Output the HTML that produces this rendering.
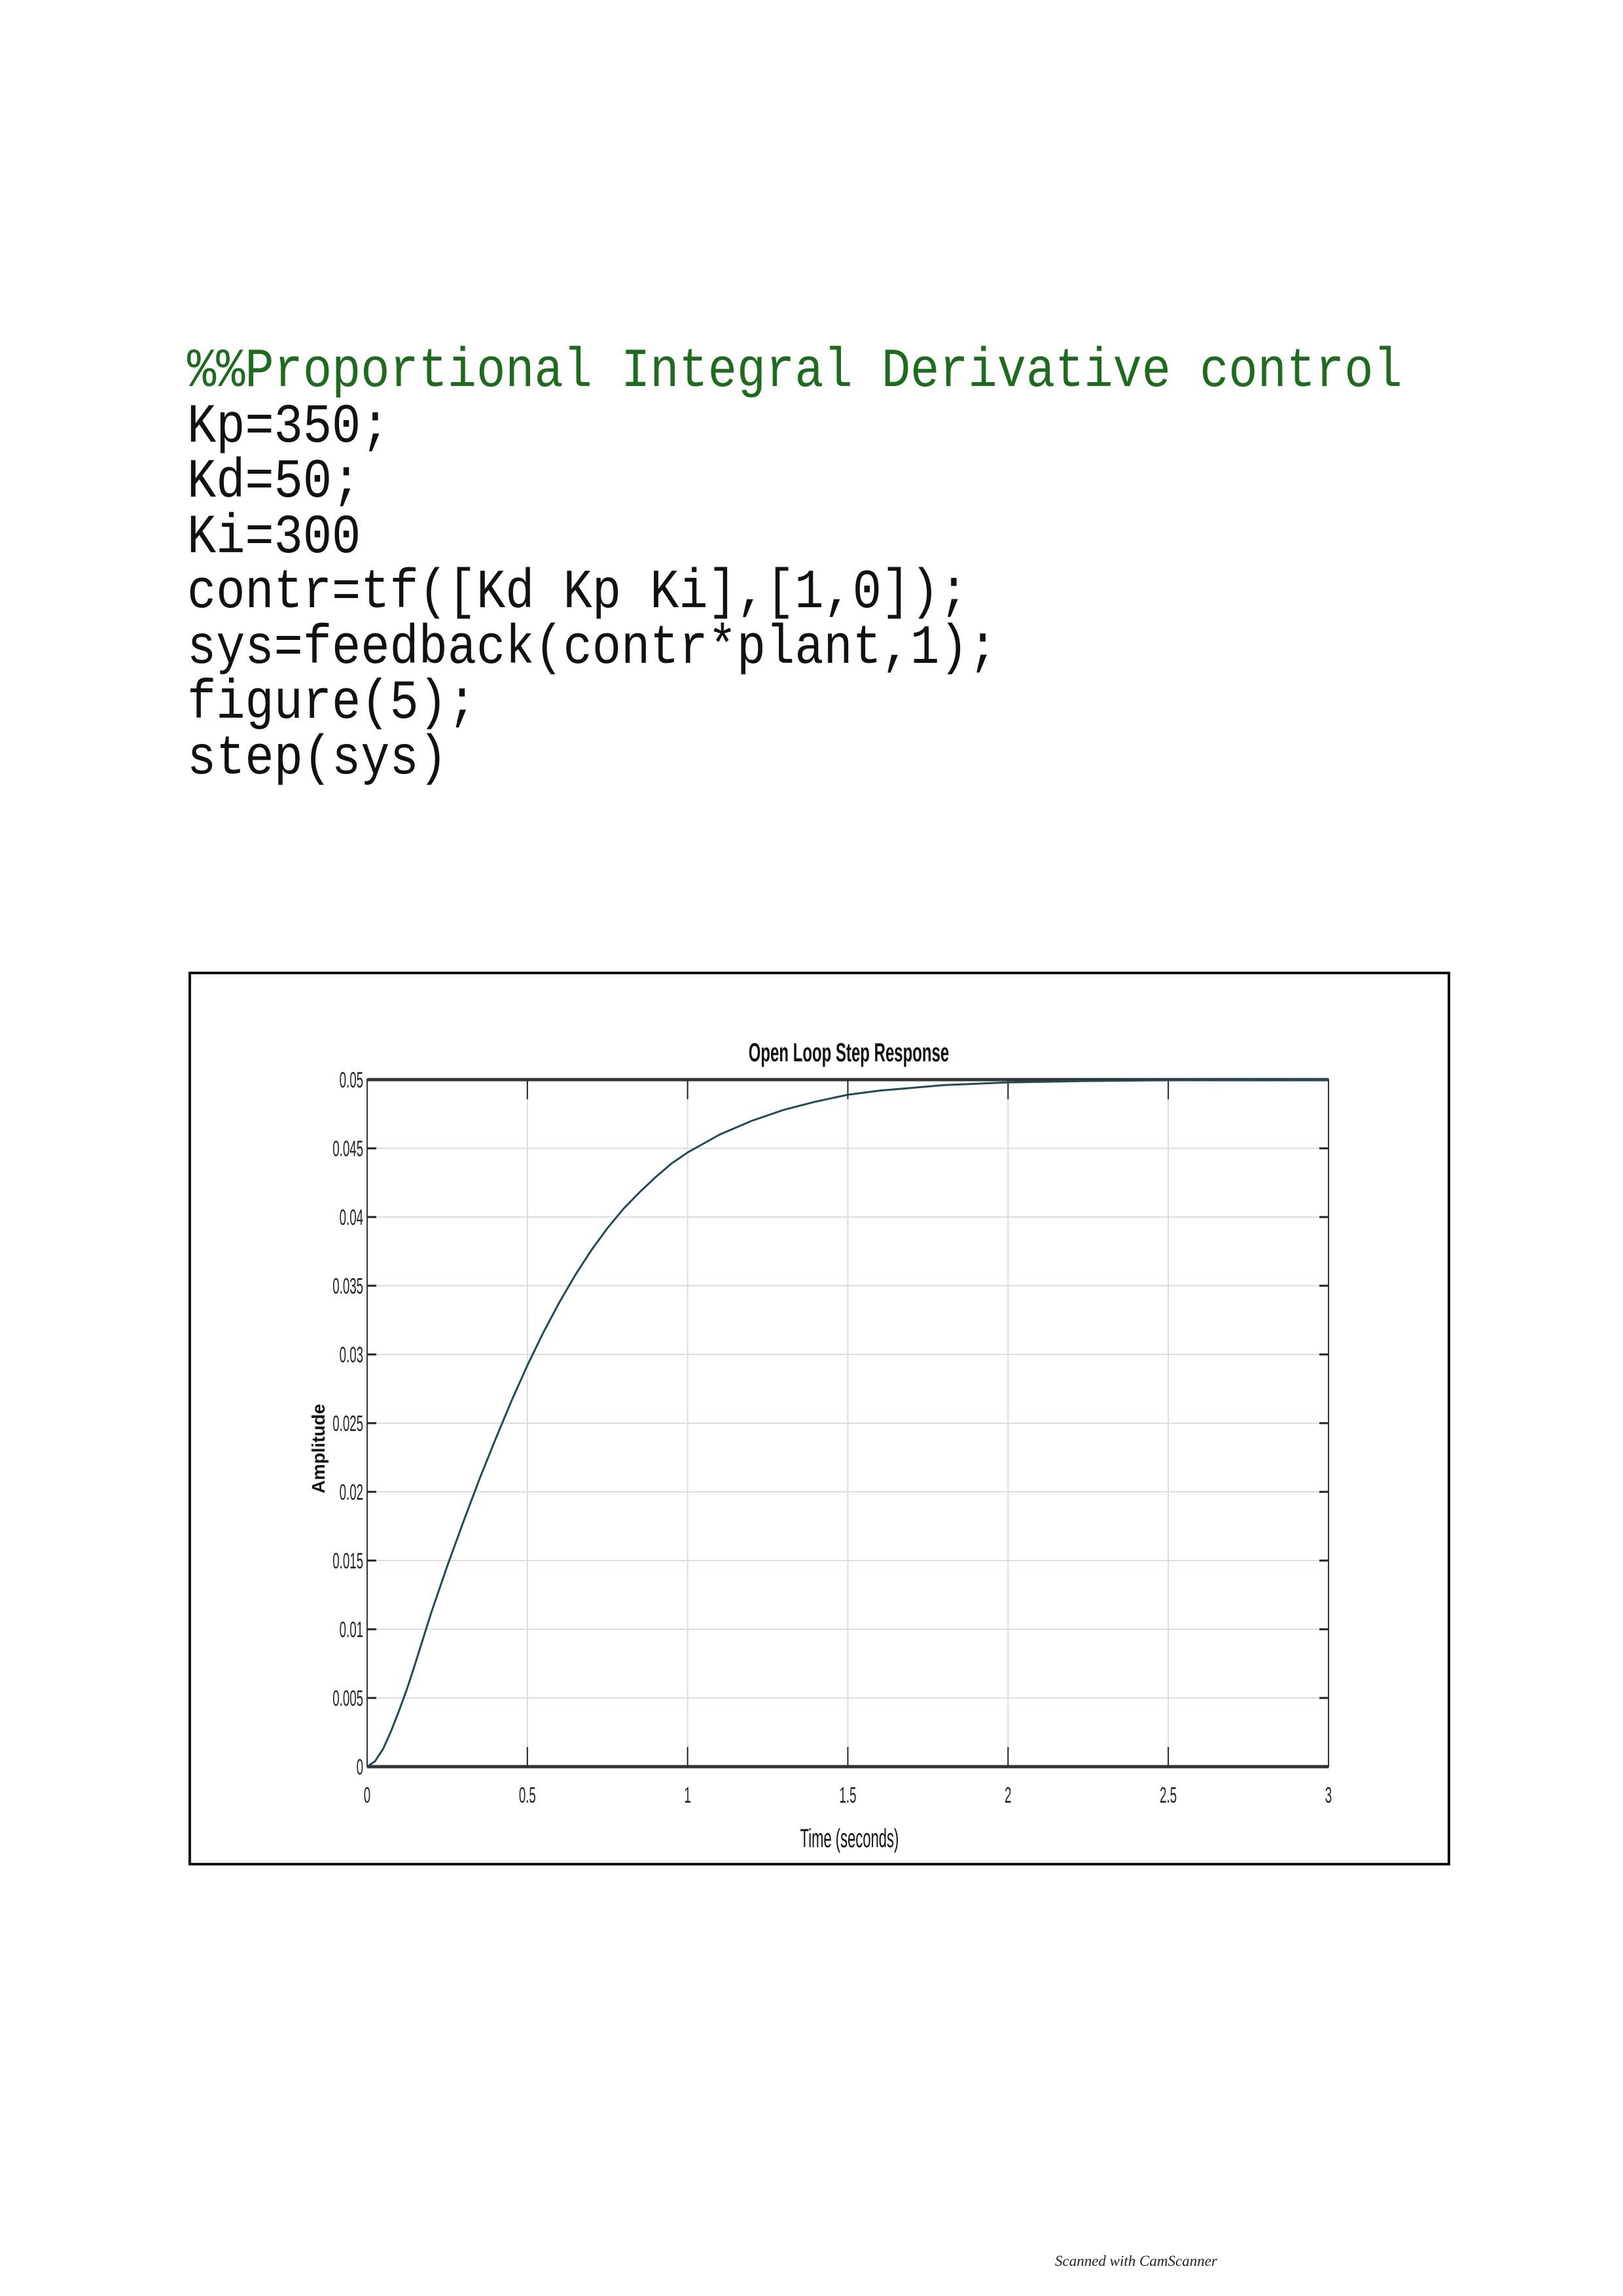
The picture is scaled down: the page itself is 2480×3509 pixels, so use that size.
<!DOCTYPE html>
<html><head><meta charset="utf-8"><style>
html,body{margin:0;padding:0;background:#fff;}
svg{display:block;}
</style></head><body>
<svg width="2480" height="3509" viewBox="0 0 2480 3509" xmlns="http://www.w3.org/2000/svg">
<g font-family="'Liberation Mono', monospace" font-size="84" transform="translate(286,0) scale(0.877,1)">
<text x="0" y="590" fill="#1d6b1d">%%Proportional Integral Derivative control</text>
<text x="0" y="675" fill="#111">Kp=350;</text>
<text x="0" y="759" fill="#111">Kd=50;</text>
<text x="0" y="844" fill="#111">Ki=300</text>
<text x="0" y="928" fill="#111">contr=tf([Kd Kp Ki],[1,0]);</text>
<text x="0" y="1013" fill="#111">sys=feedback(contr*plant,1);</text>
<text x="0" y="1097" fill="#111">figure(5);</text>
<text x="0" y="1182" fill="#111">step(sys)</text>
</g>
<rect x="290" y="1487" width="1924" height="1362" fill="#fff" stroke="#111" stroke-width="4"/>
<g id="chart"></g>
<text x="1612" y="3463" font-family="'Liberation Serif', serif" font-style="italic" font-size="23" fill="#222">Scanned with CamScanner</text>
</svg>
<script>
const xTicks = [0, 0.5, 1, 1.5, 2, 2.5, 3];
const xTickLabels = ["0", "0.5", "1", "1.5", "2", "2.5", "3"];
const yTicks = [0, 0.005, 0.01, 0.015, 0.02, 0.025, 0.03, 0.035, 0.04, 0.045, 0.05];
const yTickLabels = ["0", "0.005", "0.01", "0.015", "0.02", "0.025", "0.03", "0.035", "0.04", "0.045", "0.05"];
const timeValues = [0, 0.025, 0.05, 0.075, 0.1, 0.125, 0.15, 0.2, 0.25, 0.3, 0.35, 0.4, 0.45, 0.5, 0.55, 0.6, 0.65, 0.7, 0.75, 0.8, 0.85, 0.9, 0.95, 1.0, 1.1, 1.2, 1.3, 1.4, 1.5, 1.6, 1.8, 2.0, 2.25, 2.5, 3.0];
const amplitudeValues = [0, 0.0004, 0.0013, 0.0026, 0.0041, 0.0057, 0.0075, 0.0112, 0.0146, 0.0178, 0.0209, 0.0238, 0.0266, 0.0292, 0.0316, 0.0338, 0.0358, 0.0376, 0.0392, 0.0406, 0.0418, 0.0429, 0.0439, 0.0447, 0.0460, 0.0470, 0.0478, 0.0484, 0.0489, 0.0492, 0.0496, 0.0498, 0.0499, 0.04995, 0.05];

const NS = "http://www.w3.org/2000/svg";
const L = 561, R = 2030, T = 1650, B = 2700;
const xs = v => L + (v - 0) / 3 * (R - L);
const ys = v => B - v / 0.05 * (B - T);
const g = document.getElementById('chart');
function mk(tag, attrs) { const e = document.createElementNS(NS, tag); for (const k in attrs) e.setAttribute(k, attrs[k]); g.appendChild(e); return e; }

xTicks.forEach((v, i) => {
  const gl = mk('line', {x1: xs(v), x2: xs(v), y1: T, y2: B, stroke: '#ddd', 'stroke-width': 2});
  
  
  const t1 = mk('line', {x1: xs(v), x2: xs(v), y1: B, y2: B - 30, stroke: '#222', 'stroke-width': 2});
  
  
  const t2 = mk('line', {x1: xs(v), x2: xs(v), y1: T, y2: T + 30, stroke: '#222', 'stroke-width': 2});
  
  
  const lb = mk('text', {x: 0, y: 0, 'font-family': "'Liberation Sans', sans-serif", 'font-size': 34, 'text-anchor': 'middle', fill: '#222', transform: `translate(${xs(v)},${B + 55}) scale(0.55,1)`});
  lb.textContent = xTickLabels[i];
  
  
});
yTicks.forEach((v, i) => {
  const gl = mk('line', {x1: L, x2: R, y1: ys(v), y2: ys(v), stroke: '#e4dada', 'stroke-width': 2});
  
  
  const t1 = mk('line', {x1: L, x2: L + 14, y1: ys(v), y2: ys(v), stroke: '#222', 'stroke-width': 3});
  
  
  const t2 = mk('line', {x1: R, x2: R - 14, y1: ys(v), y2: ys(v), stroke: '#222', 'stroke-width': 3});
  
  
  const lb = mk('text', {x: 0, y: 0, 'font-family': "'Liberation Sans', sans-serif", 'font-size': 34, 'text-anchor': 'end', fill: '#222', transform: `translate(${L - 6},${ys(v) + 12}) scale(0.55,1)`});
  lb.textContent = yTickLabels[i];
  
  
});
const ax = mk('rect', {x: L, y: T, width: R - L, height: B - T, fill: 'none', stroke: '#333', 'stroke-width': 2});


const topL = mk('line', {x1: L, x2: R, y1: T, y2: T, stroke: '#333', 'stroke-width': 5});


const botL = mk('line', {x1: L, x2: R, y1: B, y2: B, stroke: '#333', 'stroke-width': 5});



let d = '';
timeValues.forEach((t, i) => { d += (i ? ' L' : 'M') + xs(t).toFixed(1) + ' ' + ys(amplitudeValues[i]).toFixed(1); });
const curve = mk('path', {d: d, fill: 'none', stroke: '#1e4d58', 'stroke-width': 3, 'stroke-linejoin': 'round'});



const title = mk('text', {x: 0, y: 0, 'font-family': "'Liberation Sans', sans-serif", 'font-size': 40, 'font-weight': 'bold', 'text-anchor': 'middle', fill: '#111', transform: `translate(1297,1622) scale(0.6,1)`});
title.textContent = 'Open Loop Step Response';


const xt = mk('text', {x: 0, y: 0, 'font-family': "'Liberation Sans', sans-serif", 'font-size': 40, 'text-anchor': 'middle', fill: '#111', transform: `translate(1298,2823) scale(0.55,1)`});
xt.textContent = 'Time (seconds)';


const yt = mk('text', {x: 0, y: 0, 'font-family': "'Liberation Sans', sans-serif", 'font-size': 28, 'font-weight': 'bold', 'text-anchor': 'middle', fill: '#111', transform: `translate(496,2214) rotate(-90)`});
yt.textContent = 'Amplitude';


</script>
</body></html>
